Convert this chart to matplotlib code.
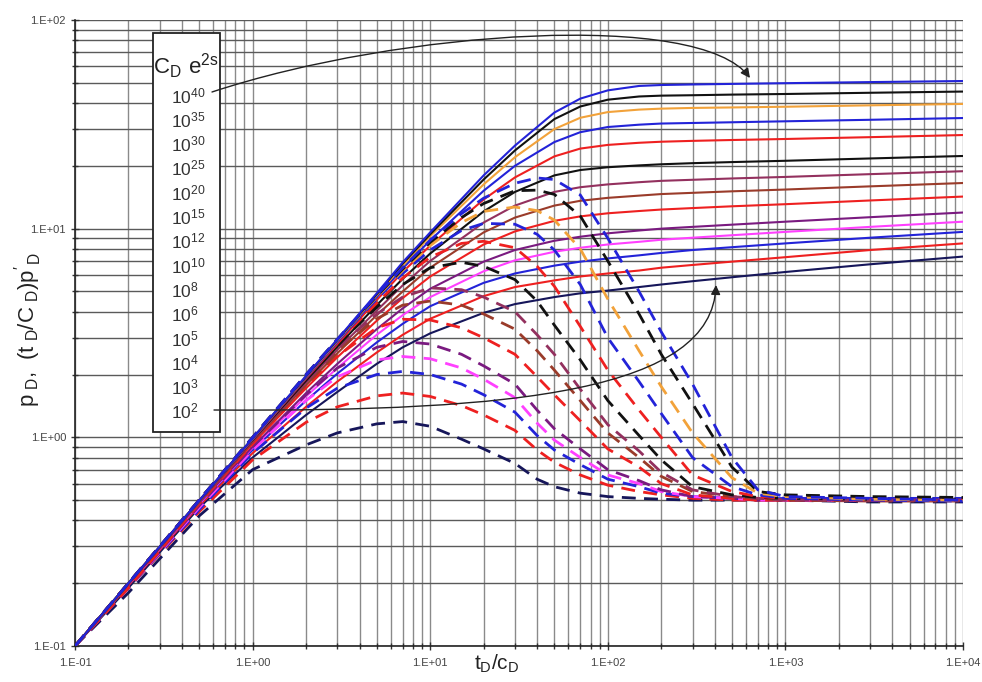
import numpy as np
import matplotlib
matplotlib.use("Agg")
import matplotlib.pyplot as plt
from matplotlib.patches import Rectangle, FancyArrowPatch
from matplotlib.path import Path
from matplotlib.transforms import IdentityTransform

plt.rcParams['font.family'] = ['Liberation Sans', 'DejaVu Sans']

# CDe^2s values (legend labels), top to bottom
exponents = ['40', '35', '30', '25', '20', '15', '12', '10', '8', '6', '5', '4', '3', '2']
colors = ['#2323d8', '#111111', '#f2a23a', '#2323d8', '#ee2020', '#111111', '#93305e',
          '#9a3b2a', '#ee2020', '#7a1a80', '#ff40ff', '#2323d8', '#ee2020', '#16165a']

# pressure curves pD (solid)
x_p = [0.1, 0.2, 0.5, 1, 2, 3, 5, 7, 10, 20, 30, 50, 70, 100, 150, 200, 300, 500, 1000, 3000, 10000]
p_40 = [0.1, 0.2, 0.498, 0.99, 1.97, 2.95, 4.9, 6.9, 9.6, 18.0, 25.0, 36.0, 42.0, 46.0, 48.3, 48.8, 49.1, 49.4, 49.8, 50.4, 51.0]
p_35 = [0.1, 0.2, 0.497, 0.99, 1.96, 2.93, 4.85, 6.8, 9.4, 17.2, 23.7, 33.5, 38.5, 41.5, 43.0, 43.4, 43.6, 43.9, 44.2, 44.8, 45.4]
p_30 = [0.1, 0.2, 0.497, 0.985, 1.95, 2.9, 4.8, 6.65, 9.2, 16.3, 22.0, 30.0, 34.0, 36.2, 37.2, 37.6, 37.9, 38.1, 38.4, 39.0, 39.6]
p_25 = [0.1, 0.2, 0.495, 0.98, 1.93, 2.86, 4.7, 6.45, 8.8, 15.2, 20.0, 26.0, 29.0, 30.7, 31.5, 31.9, 32.1, 32.35, 32.7, 33.25, 33.9]
p_20 = [0.1, 0.199, 0.495, 0.975, 1.91, 2.8, 4.55, 6.2, 8.3, 13.8, 17.6, 22.2, 24.2, 25.2, 25.8, 26.1, 26.35, 26.6, 26.9, 27.45, 28.1]
p_15 = [0.1, 0.199, 0.495, 0.97, 1.87, 2.72, 4.3, 5.75, 7.6, 12.1, 15.0, 18.0, 19.1, 19.7, 20.1, 20.35, 20.6, 20.85, 21.15, 21.7, 22.3]
p_12 = [0.1, 0.199, 0.49, 0.96, 1.83, 2.63, 4.05, 5.35, 7.0, 10.7, 12.9, 15.0, 15.8, 16.3, 16.7, 16.95, 17.15, 17.4, 17.7, 18.25, 18.85]
p_10 = [0.1, 0.199, 0.49, 0.95, 1.78, 2.53, 3.85, 5.0, 6.5, 9.6, 11.3, 12.9, 13.6, 14.05, 14.4, 14.65, 14.85, 15.1, 15.4, 15.95, 16.55]
p_8 = [0.1, 0.198, 0.49, 0.93, 1.72, 2.42, 3.62, 4.65, 5.9, 8.4, 9.7, 10.9, 11.45, 11.85, 12.15, 12.35, 12.55, 12.8, 13.1, 13.65, 14.25]
p_6 = [0.1, 0.198, 0.485, 0.9, 1.63, 2.25, 3.3, 4.15, 5.15, 6.95, 7.9, 8.75, 9.15, 9.5, 9.8, 10.0, 10.2, 10.45, 10.8, 11.35, 11.95]
p_5 = [0.1, 0.197, 0.48, 0.89, 1.57, 2.15, 3.1, 3.85, 4.7, 6.25, 7.05, 7.75, 8.1, 8.4, 8.65, 8.85, 9.05, 9.3, 9.65, 10.2, 10.8]
p_4 = [0.1, 0.197, 0.48, 0.87, 1.5, 2.02, 2.85, 3.5, 4.25, 5.5, 6.1, 6.65, 6.95, 7.2, 7.45, 7.65, 7.9, 8.15, 8.5, 9.05, 9.65]
p_3 = [0.1, 0.195, 0.47, 0.84, 1.4, 1.85, 2.55, 3.1, 3.7, 4.75, 5.25, 5.65, 5.9, 6.1, 6.3, 6.5, 6.7, 6.95, 7.3, 7.9, 8.5]
p_2 = [0.1, 0.19, 0.46, 0.8, 1.28, 1.65, 2.25, 2.7, 3.15, 3.95, 4.35, 4.7, 4.9, 5.05, 5.25, 5.4, 5.6, 5.85, 6.2, 6.75, 7.35]

# derivative curves (tD/CD) pD' (dashed)
x_d = [0.1, 0.2, 0.5, 1, 2, 3, 5, 7, 10, 15, 20, 30, 40, 50, 70, 100, 150, 200, 300, 500, 700, 1000, 3000, 10000]
d_40 = [0.1, 0.2, 0.5, 1.0, 2.0, 2.95, 4.8, 6.5, 8.8, 11.8, 14.0, 16.5, 17.5, 17.2, 14.5, 9.0, 5.0, 3.2, 1.8, 0.8, 0.56, 0.52, 0.51, 0.5]
d_35 = [0.1, 0.2, 0.5, 1.0, 2.0, 2.95, 4.75, 6.4, 8.6, 11.3, 13.2, 15.2, 15.3, 14.6, 11.5, 7.0, 3.9, 2.5, 1.45, 0.72, 0.55, 0.53, 0.52, 0.515]
d_30 = [0.1, 0.2, 0.5, 1.0, 1.98, 2.93, 4.7, 6.3, 8.3, 10.7, 12.1, 12.7, 12.2, 11.0, 8.0, 4.6, 2.6, 1.75, 1.05, 0.64, 0.54, 0.52, 0.505, 0.5]
d_25 = [0.1, 0.2, 0.5, 0.99, 1.97, 2.9, 4.6, 6.1, 7.9, 9.8, 10.6, 10.5, 9.4, 7.9, 5.4, 3.0, 1.85, 1.3, 0.8, 0.58, 0.53, 0.51, 0.5, 0.495]
d_20 = [0.1, 0.2, 0.5, 0.99, 1.95, 2.85, 4.4, 5.8, 7.3, 8.5, 8.7, 8.1, 6.6, 5.3, 3.4, 2.1, 1.35, 1.0, 0.66, 0.55, 0.52, 0.51, 0.5, 0.5]
d_15 = [0.1, 0.2, 0.5, 0.98, 1.92, 2.78, 4.2, 5.4, 6.5, 6.9, 6.6, 5.7, 4.5, 3.45, 2.35, 1.5, 1.02, 0.78, 0.58, 0.53, 0.515, 0.51, 0.505, 0.505]
d_12 = [0.1, 0.2, 0.49, 0.97, 1.88, 2.7, 3.9, 4.7, 5.2, 5.1, 4.7, 4.0, 3.1, 2.5, 1.7, 1.15, 0.86, 0.68, 0.56, 0.52, 0.51, 0.5, 0.5, 0.5]
d_10 = [0.1, 0.2, 0.49, 0.96, 1.83, 2.6, 3.7, 4.3, 4.5, 4.3, 3.9, 3.3, 2.6, 2.1, 1.5, 1.05, 0.8, 0.65, 0.55, 0.52, 0.51, 0.5, 0.495, 0.495]
d_8 = [0.1, 0.19, 0.48, 0.93, 1.75, 2.45, 3.35, 3.68, 3.65, 3.35, 3.0, 2.5, 1.95, 1.6, 1.2, 0.88, 0.72, 0.6, 0.53, 0.51, 0.5, 0.5, 0.5, 0.5]
d_6 = [0.1, 0.19, 0.47, 0.9, 1.6, 2.15, 2.7, 2.88, 2.8, 2.5, 2.2, 1.8, 1.35, 1.1, 0.88, 0.7, 0.62, 0.56, 0.52, 0.51, 0.5, 0.5, 0.5, 0.5]
d_5 = [0.1, 0.19, 0.46, 0.87, 1.5, 1.95, 2.35, 2.44, 2.38, 2.15, 1.9, 1.55, 1.17, 0.97, 0.8, 0.66, 0.6, 0.55, 0.52, 0.51, 0.5, 0.5, 0.5, 0.5]
d_4 = [0.1, 0.19, 0.45, 0.84, 1.38, 1.72, 2.0, 2.07, 2.0, 1.8, 1.6, 1.32, 1.02, 0.87, 0.74, 0.63, 0.58, 0.54, 0.52, 0.51, 0.505, 0.51, 0.51, 0.51]
d_3 = [0.1, 0.19, 0.44, 0.78, 1.18, 1.4, 1.58, 1.63, 1.57, 1.42, 1.28, 1.08, 0.87, 0.76, 0.66, 0.59, 0.55, 0.53, 0.51, 0.5, 0.5, 0.5, 0.5, 0.5]
d_2 = [0.1, 0.18, 0.42, 0.7, 0.92, 1.05, 1.16, 1.19, 1.13, 0.98, 0.88, 0.75, 0.63, 0.58, 0.54, 0.52, 0.51, 0.505, 0.5, 0.5, 0.5, 0.5, 0.49, 0.49]

p_curves = [p_40, p_35, p_30, p_25, p_20, p_15, p_12, p_10, p_8, p_6, p_5, p_4, p_3, p_2]
d_curves = [d_40, d_35, d_30, d_25, d_20, d_15, d_12, d_10, d_8, d_6, d_5, d_4, d_3, d_2]

xticks = [0.1, 1, 10, 100, 1000, 10000]
xtick_labels = ['1.E-01', '1.E+00', '1.E+01', '1.E+02', '1.E+03', '1.E+04']
yticks = [0.1, 1, 10, 100]
ytick_labels = ['1.E-01', '1.E+00', '1.E+01', '1.E+02']

W, H = 982, 682
fig = plt.figure(figsize=(W / 100, H / 100), dpi=100)
ax = fig.add_axes([75 / W, 36 / H, 888 / W, 626 / H])
ax.set_xscale('log')
ax.set_yscale('log')
ax.set_xlim(0.1, 10000)
ax.set_ylim(0.1, 100)

# grid
ax.grid(True, which='both', axis='x', color='#8a8a8a', lw=1.0)
ax.grid(True, which='both', axis='y', color='#5a5a5a', lw=1.0)
ax.set_axisbelow(True)

for spine in ['top', 'right']:
    ax.spines[spine].set_visible(False)
for spine in ['left', 'bottom']:
    ax.spines[spine].set_color('#222222')
    ax.spines[spine].set_linewidth(1.2)

# curves: draw from bottom (10^2) up
for i in range(len(exponents) - 1, -1, -1):
    ax.plot(x_p, p_curves[i], color=colors[i], lw=1.5, zorder=3)
    ax.plot(x_d, d_curves[i], color=colors[i], lw=2.0, dashes=(5, 3), zorder=3)

ax.set_xticks(xticks)
ax.set_xticklabels(xtick_labels)
ax.set_yticks(yticks)
ax.set_yticklabels(ytick_labels)
ax.tick_params(which='both', direction='inout', length=6, width=1, color='#333333')
ax.tick_params(which='minor', length=5)
ax.tick_params(axis='both', labelsize=8, labelcolor='#444444')
ax.tick_params(axis='x', pad=6)

# axis titles
fig.text(497 / W, 1 - 664 / H, r'$\mathregular{t_D/c_D}$', fontsize=15, color='#222222',
         ha='center', va='center')
fig.text(28 / W, 1 - 330 / H, r"$\mathregular{p_{\ D},\ (t_{\ D}/C_{\ D})p_{\ D}^{\prime}}$",
         fontsize=16, color='#222222', ha='center', va='center', rotation=90)

# legend box for CDe^2s
box = Rectangle((153 / W, 1 - 432 / H), 67 / W, 399 / H, transform=fig.transFigure,
                facecolor='white', edgecolor='#222222', lw=1.3, zorder=5)
fig.patches.append(box)
fig.text(186 / W, 1 - 66 / H, r'$\mathregular{C_D\ e^{2s}}$', fontsize=16, color='#222222',
         ha='center', va='center', zorder=6)
row_y = 96
for e in exponents:
    fig.text(171 / W, 1 - row_y / H, r'$\mathregular{10^{%s}}$' % e, fontsize=12.5,
             color='#333333', ha='left', va='center', zorder=6)
    row_y += 24.3


# curved arrows from the legend to the 10^40 and 10^2 curves (figure pixels, y down)
def curved_arrow(pts):
    verts = [(px, H - py) for px, py in pts]
    path = Path(verts, [Path.MOVETO, Path.CURVE4, Path.CURVE4, Path.CURVE4])
    arr = FancyArrowPatch(path=path, arrowstyle='-|>', mutation_scale=14, color='#222222',
                          lw=1.0, transform=IdentityTransform(), zorder=6)
    fig.add_artist(arr)


curved_arrow([(212, 92), (400, 30), (700, 10), (750, 78)])
curved_arrow([(214, 410), (520, 412), (712, 390), (716, 285)])

fig.savefig('out.png', dpi=100)
